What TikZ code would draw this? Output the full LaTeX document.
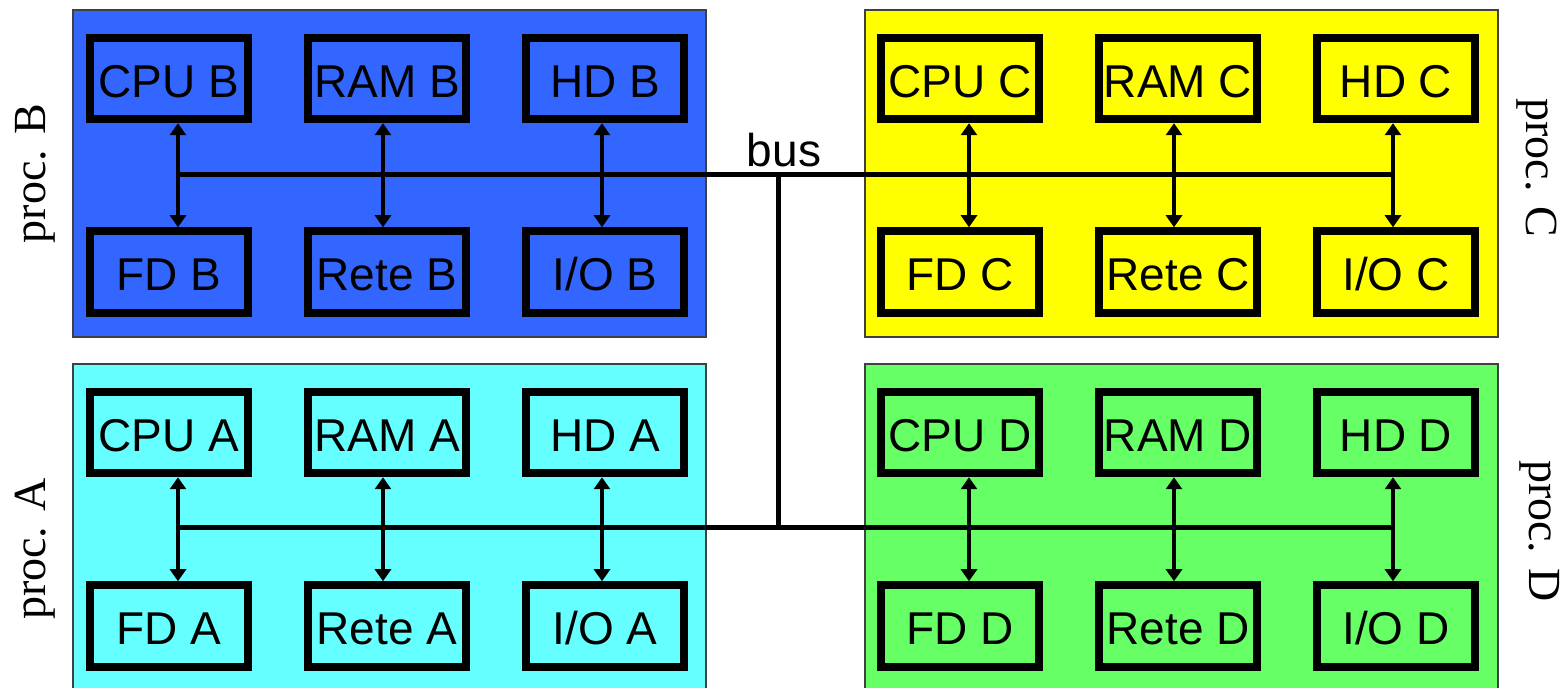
\documentclass[tikz,border=0pt]{standalone}
\usepackage{fontspec}
\setmainfont{Liberation Sans}
\newfontfamily\procfont{Liberation Serif}
\usepackage{tikz}
\usetikzlibrary{arrows.meta,positioning}
\definecolor{procA}{HTML}{66FFFF}
\definecolor{procB}{HTML}{3366FF}
\definecolor{procC}{HTML}{FFFF00}
\definecolor{procD}{HTML}{66FF66}
\tikzset{
  panel/.style={draw=black!75, line width=0.75pt},
  unit/.style={draw, line width=4pt, minimum width=79pt, minimum height=40.75pt, inner sep=0pt, text height=19pt, text depth=0pt, font=\fontsize{23}{27}\selectfont},
  link/.style={{Triangle[width=8pt,length=6pt]}-{Triangle[width=8pt,length=6pt]}, line width=2.25pt},
  bus/.style={line width=2.25pt},
  proclabel/.style={font=\procfont\fontsize{23}{27}\selectfont}
}

\begin{document}
\begin{tikzpicture}[x=0.5pt, y=-0.5pt, node distance=52pt and 26pt]
  \clip (0,0) rectangle (1565,688);

  % processor panels
  \draw[panel, fill=procB] (73,10) rectangle (706,337);
  \draw[panel, fill=procC] (865,10) rectangle (1498,337);
  \draw[panel, fill=procA] (73,364) rectangle (706,700);
  \draw[panel, fill=procD] (865,364) rectangle (1498,700);

  % proc. B
  \node[unit] (cpuB) at (169,78.5) {CPU B};
  \node[unit, right=of cpuB] (ramB) {RAM B};
  \node[unit, right=of ramB] (hdB) {HD B};
  \node[unit, below=of cpuB] (fdB) {FD B};
  \node[unit, below=of ramB] (reteB) {Rete B};
  \node[unit, below=of hdB] (ioB) {I/O B};
  \draw[link] ([xshift=4.5pt]cpuB.south) -- ([xshift=4.5pt]fdB.north);
  \draw[link] ([xshift=-2pt]ramB.south) -- ([xshift=-2pt]reteB.north);
  \draw[link] ([xshift=-1.5pt]hdB.south) -- ([xshift=-1.5pt]ioB.north);

  % proc. C
  \node[unit] (cpuC) at (960,78.5) {CPU C};
  \node[unit, right=of cpuC] (ramC) {RAM C};
  \node[unit, right=of ramC] (hdC) {HD C};
  \node[unit, below=of cpuC] (fdC) {FD C};
  \node[unit, below=of ramC] (reteC) {Rete C};
  \node[unit, below=of hdC] (ioC) {I/O C};
  \draw[link] ([xshift=4.5pt]cpuC.south) -- ([xshift=4.5pt]fdC.north);
  \draw[link] ([xshift=-2pt]ramC.south) -- ([xshift=-2pt]reteC.north);
  \draw[link] ([xshift=-1.5pt]hdC.south) -- ([xshift=-1.5pt]ioC.north);

  % proc. A
  \node[unit] (cpuA) at (169,432.5) {CPU A};
  \node[unit, right=of cpuA] (ramA) {RAM A};
  \node[unit, right=of ramA] (hdA) {HD A};
  \node[unit, below=of cpuA] (fdA) {FD A};
  \node[unit, below=of ramA] (reteA) {Rete A};
  \node[unit, below=of hdA] (ioA) {I/O A};
  \draw[link] ([xshift=4.5pt]cpuA.south) -- ([xshift=4.5pt]fdA.north);
  \draw[link] ([xshift=-2pt]ramA.south) -- ([xshift=-2pt]reteA.north);
  \draw[link] ([xshift=-1.5pt]hdA.south) -- ([xshift=-1.5pt]ioA.north);

  % proc. D
  \node[unit] (cpuD) at (960,432.5) {CPU D};
  \node[unit, right=of cpuD] (ramD) {RAM D};
  \node[unit, right=of ramD] (hdD) {HD D};
  \node[unit, below=of cpuD] (fdD) {FD D};
  \node[unit, below=of ramD] (reteD) {Rete D};
  \node[unit, below=of hdD] (ioD) {I/O D};
  \draw[link] ([xshift=4.5pt]cpuD.south) -- ([xshift=4.5pt]fdD.north);
  \draw[link] ([xshift=-2pt]ramD.south) -- ([xshift=-2pt]reteD.north);
  \draw[link] ([xshift=-1.5pt]hdD.south) -- ([xshift=-1.5pt]ioD.north);

  % shared bus
  \coordinate (busB) at (178,174.5);
  \coordinate (busC) at (1394,174.5);
  \coordinate (busA) at (178,527.5);
  \coordinate (busD) at (1394,527.5);
  \coordinate (busTop) at (778.5,174.5);
  \coordinate (busBottom) at (778.5,527.5);
  \draw[bus] (busB) -- (busC);
  \draw[bus] (busA) -- (busD);
  \draw[bus] (busTop) -- (busBottom);
  \node[anchor=base, font=\fontsize{23}{27}\selectfont] (busLabel) at (784,167) {bus};

  \node[proclabel, rotate=90] (procB) at (35,173.5) {proc. B};
  \node[proclabel, rotate=90] (procA) at (35,549) {proc. A};
  \node[proclabel, rotate=-90] (procC) at (1537,168) {proc. C};
  \node[proclabel, rotate=-90] (procD) at (1540,531) {proc. D};
\end{tikzpicture}
\end{document}
